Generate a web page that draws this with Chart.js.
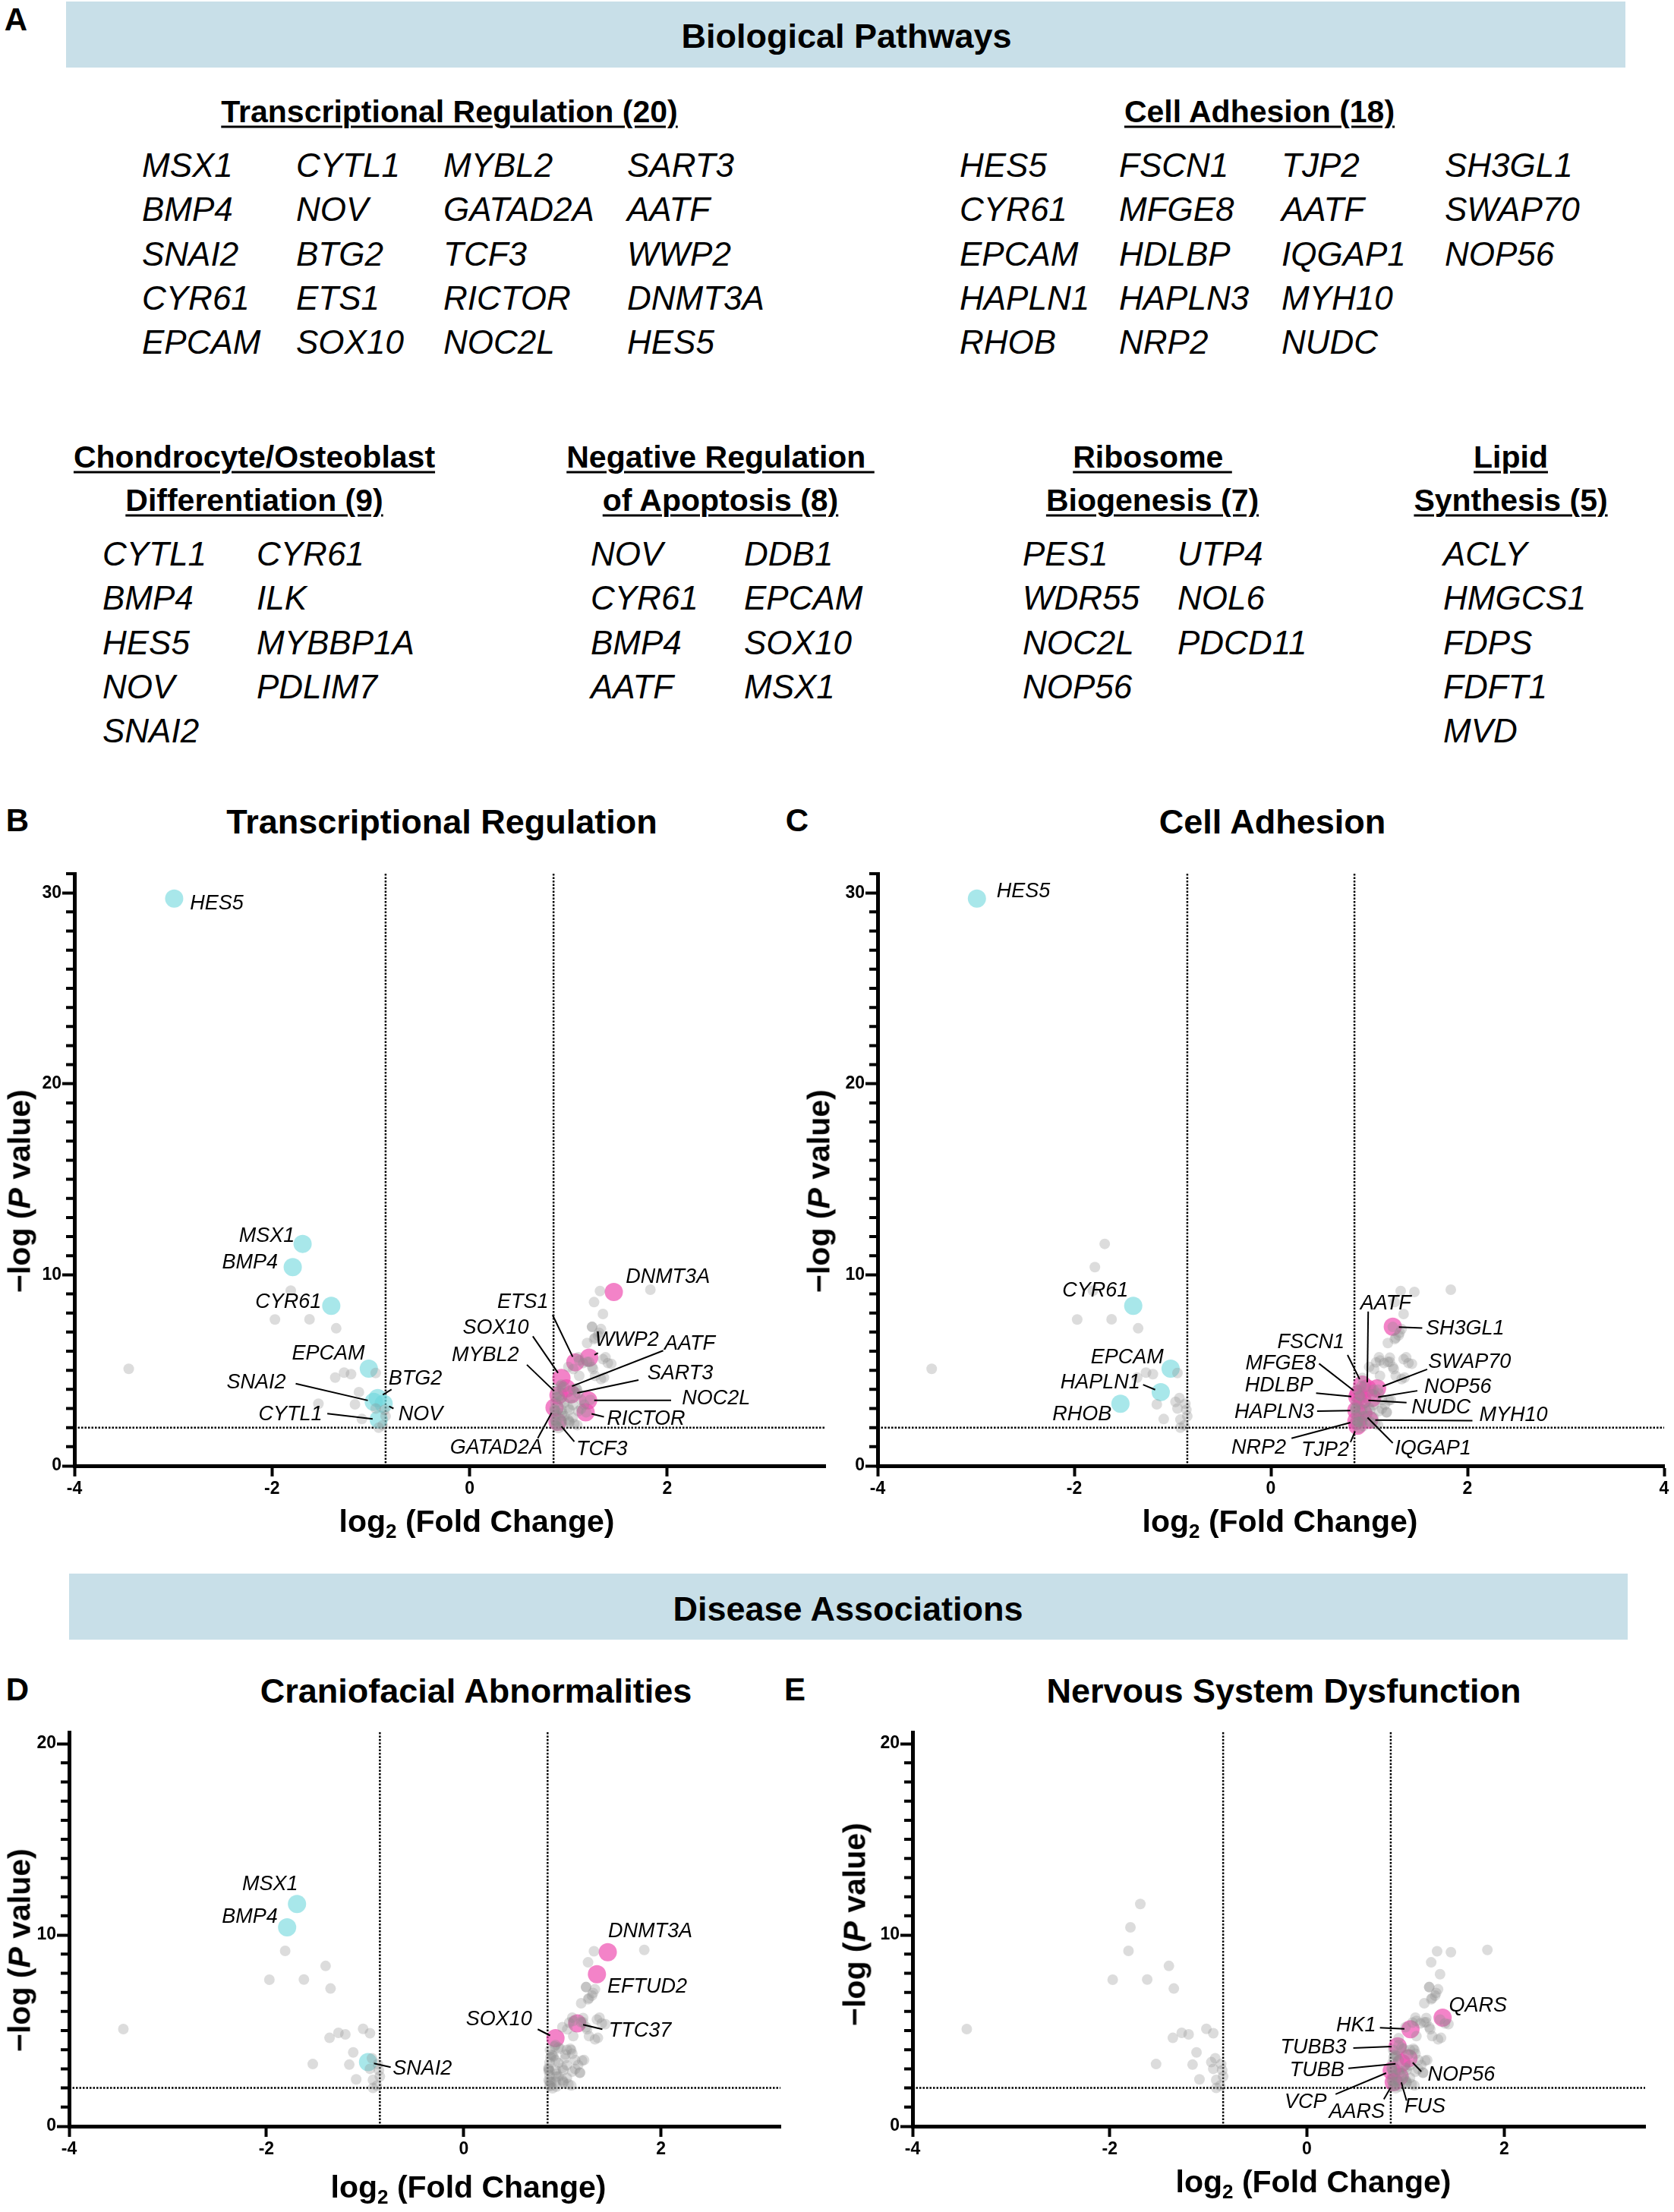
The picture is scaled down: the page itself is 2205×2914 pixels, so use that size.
<!DOCTYPE html>
<html>
<head>
<meta charset="utf-8">
<script src="https://cdn.jsdelivr.net/npm/chart.js@4/dist/chart.umd.min.js"></script>
<style>
html,body{margin:0;padding:0;background:#fff;overflow:hidden}
body{width:2205px;height:2914px;position:relative;font-family:"Liberation Sans",Arimo,Arial,Helvetica,sans-serif;color:#000}
.t{position:absolute;white-space:nowrap;line-height:1}
.c{transform:translate(-50%,-50%)}
.l{transform:translate(0,-50%)}
.band{position:absolute;background:#c8dfe8}
.ttl{font-weight:bold;font-size:45px}
.let{font-weight:bold;font-size:42px}
.hd{font-weight:bold;font-size:41px;text-decoration:underline;text-decoration-thickness:3px;text-underline-offset:5px}
.gene{font-style:italic;font-size:44px}
.axt{font-weight:bold;font-size:41px}
.axt sub{font-size:26px;vertical-align:-8px}
.yt{transform:translate(-50%,-50%) rotate(-90deg)}
canvas{position:absolute}
</style>
</head>
<body>
<script>
// ===== DADOS =====
// genes nomeados: log2 fold change e -log P
const geneNames = ["HES5","MSX1","BMP4","CYR61","EPCAM","SNAI2","CYTL1","BTG2","NOV","HAPLN1","RHOB",
  "DNMT3A","EFTUD2","TTC37","SOX10","ETS1","WWP2","MYBL2","AATF","SART3","NOC2L","RICTOR","GATAD2A","TCF3",
  "SH3GL1","FSCN1","MFGE8","HDLBP","HAPLN3","NRP2","TJP2","IQGAP1","MYH10","NUDC","SWAP70","NOP56",
  "QARS","HK1","TUBB3","TUBB","VCP","AARS","FUS"];
const geneLogFC = [-2.99,-1.69,-1.79,-1.40,-1.02,-0.97,-0.92,-0.93,-0.87,-1.12,-1.53,
  1.46,1.35,1.15,0.93,1.07,1.21,0.90,0.98,1.03,1.20,1.175,0.86,0.89,
  1.24,0.93,0.89,0.88,0.87,0.87,0.88,0.94,1.00,0.93,1.08,1.03,
  1.376,1.05,0.92,0.96,0.86,0.88,0.94];
const geneLogP = [29.7,11.62,10.4,8.38,5.09,3.35,2.42,3.55,3.25,3.86,3.25,
  9.1,7.95,5.38,4.6,5.42,5.66,3.7,4.05,3.75,3.43,2.8,3.05,2.3,
  7.28,4.25,3.75,3.6,2.9,2.35,2.1,2.75,2.4,3.45,4.05,3.55,
  5.68,5.07,4.18,3.3,2.9,2.3,2.6];

// demais proteínas significativas (sem nome)
const otherLogFC = [-3.45,-1.81,-1.97,-1.62,-1.35,-1.36,-1.27,-1.20,-0.95,-1.16,-0.86,-1.09,-0.88,-0.92,-0.85,-0.95,
  1.32,1.83,1.26,1.24,1.33,1.30,1.19,1.27,1.435,1.10,1.19,1.24,1.27,1.33,1.11,1.35,1.25,1.36,1.22,1.18,1.09,1.01,1.09,1.13,
  0.874,0.96,1.045,1.10,0.91,1.13,0.87,1.045,0.86,0.93,1.01,1.10,0.87,0.96,1.045,0.86,0.93,1.01,0.87,0.94,0.90,1.06,1.16,1.00,
  1.00,1.21,1.11,1.40,1.31,1.26];
const otherLogP = [5.08,9.17,7.66,7.67,7.2,4.62,4.88,4.80,4.86,3.22,2.93,2.45,2.12,2.0,2.6,3.0,
  9.15,9.22,8.57,7.27,7.16,6.83,6.43,6.7,5.34,5.68,5.44,5.18,4.71,4.54,4.71,5.58,5.07,4.62,3.46,2.80,3.98,2.33,2.13,2.99,
  3.99,4.12,3.99,3.79,3.65,3.46,3.33,3.19,2.99,2.93,2.93,2.86,2.66,2.60,2.53,2.40,2.33,2.27,2.13,2.07,1.98,2.2,3.2,3.05,
  5.18,5.44,5.51,5.38,6.97,6.64];

const FC_CUT = 0.85;   // log2(1.8)
const P_CUT = 2;       // P = 0.01

// genes destacados em cada painel
const transcriptionalGenes = ["HES5","MSX1","BMP4","CYR61","EPCAM","SNAI2","CYTL1","BTG2","NOV",
  "DNMT3A","ETS1","SOX10","MYBL2","WWP2","AATF","SART3","NOC2L","RICTOR","GATAD2A","TCF3"];
const adhesionGenes = ["HES5","CYR61","EPCAM","HAPLN1","RHOB","AATF","SH3GL1","FSCN1","SWAP70","MFGE8",
  "NOP56","HDLBP","NUDC","MYH10","HAPLN3","NRP2","TJP2","IQGAP1"];
const craniofacialGenes = ["MSX1","BMP4","SNAI2","DNMT3A","EFTUD2","SOX10","TTC37"];
const nervousGenes = ["QARS","HK1","TUBB3","TUBB","NOP56","VCP","AARS","FUS"];

// painel A
const pathwayTranscription = ["MSX1","BMP4","SNAI2","CYR61","EPCAM","CYTL1","NOV","BTG2","ETS1","SOX10",
  "MYBL2","GATAD2A","TCF3","RICTOR","NOC2L","SART3","AATF","WWP2","DNMT3A","HES5"];
const pathwayAdhesion = ["HES5","CYR61","EPCAM","HAPLN1","RHOB","FSCN1","MFGE8","HDLBP","HAPLN3","NRP2",
  "TJP2","AATF","IQGAP1","MYH10","NUDC","SH3GL1","SWAP70","NOP56"];
const pathwayChondro = ["CYTL1","BMP4","HES5","NOV","SNAI2","CYR61","ILK","MYBBP1A","PDLIM7"];
const pathwayApoptosis = ["NOV","CYR61","BMP4","AATF","DDB1","EPCAM","SOX10","MSX1"];
const pathwayRibosome = ["PES1","WDR55","NOC2L","NOP56","UTP4","NOL6","PDCD11"];
const pathwayLipid = ["ACLY","HMGCS1","FDPS","FDFT1","MVD"];

// ===== LAYOUT DOS RÓTULOS (posição do texto e início da linha, em unidades dos eixos) =====
const labelsB = [
  ["HES5",-2.83,29.45,"left"],["MSX1",-1.77,12.04,"right"],["BMP4",-1.94,10.63,"right"],
  ["CYR61",-1.50,8.57,"right"],["EPCAM",-1.06,5.86,"right"],
  ["BTG2",-0.82,4.54,"left",-0.79,4.0],["SNAI2",-1.86,4.35,"right",-1.76,4.30],
  ["CYTL1",-1.49,2.68,"right",-1.44,2.73],["NOV",-0.72,2.68,"left",-0.77,3.0],
  ["DNMT3A",1.58,9.88,"left"],["ETS1",0.80,8.57,"right",0.84,7.9],["SOX10",0.60,7.23,"right",0.64,6.78],
  ["MYBL2",0.50,5.79,"right",0.58,5.29],["WWP2",1.27,6.58,"left",1.30,5.91],["AATF",1.97,6.36,"left",1.96,6.03],
  ["SART3",1.80,4.84,"left",1.71,4.49],["NOC2L",2.15,3.50,"left",2.04,3.43],["RICTOR",1.39,2.43,"left",1.36,2.56],
  ["GATAD2A",0.74,0.94,"right",0.69,1.44],["TCF3",1.08,0.87,"left",1.06,1.27]
];
const labelsC = [
  ["HES5",-2.79,30.05,"left"],["CYR61",-1.45,9.15,"right"],["EPCAM",-1.09,5.67,"right"],
  ["HAPLN1",-1.33,4.35,"right",-1.30,4.25],["RHOB",-1.62,2.69,"right"],
  ["AATF",0.91,8.48,"left",0.99,8.08],["SH3GL1",1.575,7.16,"left",1.54,7.21],["FSCN1",0.75,6.47,"right",0.78,5.80],
  ["SWAP70",1.60,5.42,"left",1.59,5.05],["MFGE8",0.46,5.35,"right",0.49,5.35],["NOP56",1.56,4.10,"left",1.49,3.93],
  ["HDLBP",0.43,4.18,"right",0.46,3.81],["NUDC",1.43,3.06,"left",1.38,3.31],["MYH10",2.12,2.64,"left",2.05,2.36],
  ["HAPLN3",0.44,2.81,"right",0.47,2.86],["NRP2",0.155,0.95,"right",0.21,1.44],["TJP2",0.795,0.82,"right",0.81,1.24],
  ["IQGAP1",1.26,0.90,"left",1.24,1.19]
];
const labelsD = [
  ["MSX1",-1.68,12.65,"right"],["BMP4",-1.885,10.93,"right"],["SNAI2",-0.72,2.99,"left",-0.74,3.09],
  ["DNMT3A",1.463,10.18,"left"],["EFTUD2",1.456,7.27,"left"],["SOX10",0.692,5.57,"right",0.75,5.07],
  ["TTC37",1.47,4.98,"left",1.405,5.07]
];
const labelsE = [
  ["QARS",1.44,6.3,"left"],["HK1",0.70,5.24,"right",0.74,5.15],["TUBB3",0.40,4.09,"right",0.47,4.09],
  ["TUBB",0.38,2.9,"right",0.42,3.03],["NOP56",1.225,2.66,"left",1.16,2.86],["VCP",0.20,1.27,"right",0.29,1.67],
  ["AARS",0.79,0.74,"right",0.78,1.41],["FUS",0.99,1.01,"left",1.01,1.34]
];

// ===== TEXTO HTML =====
function put(html, x, y, cls){
  let d = document.createElement("div");
  d.className = "t " + cls;
  d.innerHTML = html;
  d.style.left = x + "px";
  d.style.top = y + "px";
  document.body.appendChild(d);
  return d;
}
function band(x, y, w, h){
  let d = document.createElement("div");
  d.className = "band";
  Object.assign(d.style, {left:x+"px", top:y+"px", width:w+"px", height:h+"px"});
  document.body.appendChild(d);
}

function renderPainelA(){
  band(87, 2, 2054, 87);
  put("Biological Pathways", 1115, 47, "ttl c");
  put("A", 21, 26, "let c");
  const blocos = [
    {genes:pathwayTranscription, titles:["Transcriptional Regulation (20)"], cx:592, ty:[147], cols:[187,390,584,826], per:5, y0:218},
    {genes:pathwayAdhesion, titles:["Cell Adhesion (18)"], cx:1659, ty:[147], cols:[1264,1474,1688,1903], per:5, y0:218},
    {genes:pathwayChondro, titles:["Chondrocyte/Osteoblast","Differentiation (9)"], cx:335, ty:[602,659], cols:[135,338], per:5, y0:730},
    {genes:pathwayApoptosis, titles:["Negative Regulation&nbsp;","of Apoptosis (8)"], cx:949, ty:[602,659], cols:[778,980], per:4, y0:730},
    {genes:pathwayRibosome, titles:["Ribosome&nbsp;","Biogenesis (7)"], cx:1518, ty:[602,659], cols:[1347,1551], per:4, y0:730},
    {genes:pathwayLipid, titles:["Lipid","Synthesis (5)"], cx:1990, ty:[602,659], cols:[1901], per:5, y0:730}
  ];
  blocos.forEach(b=>{
    b.titles.forEach((t,i)=>put(t, b.cx, b.ty[i], "hd c"));
    b.genes.forEach((g,i)=>{
      let col = Math.floor(i / b.per), row = i % b.per;
      put(g, b.cols[col], b.y0 + row*58.3, "gene l");
    });
  });
}

// ===== GRÁFICOS =====
function ponto(g){
  let i = geneNames.indexOf(g);
  return {x: geneLogFC[i], y: geneLogP[i], g};
}

const decor = {
  id: "decor",
  beforeDatasetsDraw(chart){
    const {ctx, chartArea:a, scales:{x, y}} = chart;
    ctx.save();
    ctx.strokeStyle = "#000"; ctx.lineWidth = 2.5; ctx.setLineDash([2.5,2]);
    ctx.beginPath();
    [-FC_CUT, FC_CUT].forEach(v=>{ let px = x.getPixelForValue(v); ctx.moveTo(px, a.top); ctx.lineTo(px, a.bottom); });
    let py = y.getPixelForValue(P_CUT);
    ctx.moveTo(a.left, py); ctx.lineTo(a.right, py);
    ctx.stroke();
    ctx.restore();
  },
  afterDraw(chart, args, opts){
    const {ctx, chartArea:a, scales:{x, y}} = chart;
    ctx.save();
    // ticks menores do eixo y
    ctx.strokeStyle = "#000"; ctx.lineWidth = 4;
    ctx.beginPath();
    for(let v = 1; v <= y.max; v++){
      if(v % 10 === 0) continue;
      let py = y.getPixelForValue(v);
      ctx.moveTo(a.left - 11, py); ctx.lineTo(a.left, py);
    }
    ctx.stroke();
    // rótulos dos genes
    ctx.font = "italic 27px 'Liberation Sans', Arimo, Arial, sans-serif";
    ctx.textBaseline = "middle";
    ctx.fillStyle = "#000";
    ctx.lineWidth = 2;
    (opts.labels || []).forEach(l=>{
      let p = ponto(l[0]);
      ctx.textAlign = l[3];
      ctx.fillText(l[0], x.getPixelForValue(l[1]), y.getPixelForValue(l[2]));
      if(l.length > 4){
        let sx = x.getPixelForValue(l[4]), sy = y.getPixelForValue(l[5]);
        let ex = x.getPixelForValue(p.x), ey = y.getPixelForValue(p.y);
        let d = Math.hypot(ex-sx, ey-sy), k = Math.max(0, (d - 8) / d);
        ctx.beginPath();
        ctx.moveTo(sx, sy);
        ctx.lineTo(sx + (ex-sx)*k, sy + (ey-sy)*k);
        ctx.stroke();
      }
    });
    ctx.restore();
  }
};

function renderPainel(cfg){
  const yW = 80, xH = 60, padT = 20, padR = cfg.padR;
  const cv = document.createElement("canvas");
  const w = Math.round(cfg.right - cfg.left + yW + padR);
  const h = Math.round(cfg.bottom - cfg.top + padT + xH);
  cv.width = w; cv.height = h;
  cv.style.left = (cfg.left - yW) + "px";
  cv.style.top = (cfg.top - padT) + "px";
  cv.style.width = w + "px"; cv.style.height = h + "px";
  document.body.appendChild(cv);

  // fundo cinza: todas as proteínas, menos as destacadas neste painel
  const fundo = geneNames.filter(g=>!cfg.genes.includes(g)).map(ponto)
    .concat(otherLogFC.map((v,i)=>({x:v, y:otherLogP[i]})))
    .filter(p=>p.y <= cfg.yMax);
  const hits = cfg.genes.map(ponto);
  const tickFont = {family:"'Liberation Sans Narrow','Liberation Sans',Arimo,Arial,sans-serif", size:23, weight:"bold"};

  new Chart(cv, {
    type: "scatter",
    data: { datasets: [
      { data: fundo, pointRadius: 7, pointHoverRadius: 7, backgroundColor: "rgba(140,140,140,0.3)", borderWidth: 0 },
      { data: hits.filter(p=>p.x < 0), pointRadius: 12, pointHoverRadius: 12, backgroundColor: "rgba(110,215,220,0.6)", borderWidth: 0 },
      { data: hits.filter(p=>p.x > 0), pointRadius: 12, pointHoverRadius: 12, backgroundColor: "rgba(238,79,176,0.7)", borderWidth: 0 }
    ]},
    options: {
      responsive: false, animation: false, devicePixelRatio: 1,
      layout: { padding: {top: padT, right: padR, left: 0, bottom: 0} },
      plugins: { legend: {display:false}, tooltip: {enabled:false}, decor: {labels: cfg.labels} },
      scales: {
        x: {
          type: "linear", min: -4, max: cfg.xMax,
          afterFit: s=>{ s.height = xH; },
          border: {display:true, color:"#000", width:5},
          grid: {display:true, drawOnChartArea:false, drawTicks:true, tickLength:14, tickWidth:4, tickColor:"#000"},
          ticks: {stepSize:2, includeBounds:false, color:"#000", font:tickFont, padding:3, maxRotation:0}
        },
        y: {
          type: "linear", min: 0, max: cfg.yMax,
          afterFit: s=>{ s.width = yW; },
          border: {display:true, color:"#000", width:5},
          grid: {display:true, drawOnChartArea:false, drawTicks:true, tickLength:16, tickWidth:4,
                 tickColor: c=> (c.tick && Math.abs(c.tick.value % 10) < 1e-6) ? "#000" : "rgba(0,0,0,0)"},
          ticks: {stepSize:1, autoSkip:false, includeBounds:false, color:"#000", font:tickFont, padding:1,
                  callback: v=> Math.abs(v % 10) < 1e-6 ? String(v) : ""}
        }
      }
    },
    plugins: [decor]
  });

  put(cfg.letter, cfg.letterX, cfg.titleY - 1, "let c");
  put(cfg.title, cfg.titleX, cfg.titleY, "ttl c");
  put("log<sub>2</sub> (Fold Change)", cfg.xtX, cfg.xtY, "axt c");
  put("&minus;log (<i>P</i> value)", cfg.ytX, cfg.ytY, "axt yt");
}

function init(){
  renderPainelA();
  band(91, 2073, 2053, 87);
  put("Disease Associations", 1117, 2119, "ttl c");
  renderPainel({letter:"B", letterX:23, title:"Transcriptional Regulation", titleX:582, titleY:1082,
    left:98.2, right:1087, top:1150.9, bottom:1930.6, xMax:3.6, yMax:31, padR:24,
    genes:transcriptionalGenes, labels:labelsB, xtX:628, xtY:2007, ytX:26, ytY:1569});
  renderPainel({letter:"C", letterX:1050, title:"Cell Adhesion", titleX:1676, titleY:1082,
    left:1155.9, right:2193.5, top:1150.9, bottom:1930.6, xMax:4, yMax:31, padR:10,
    genes:adhesionGenes, labels:labelsC, xtX:1686, xtY:2007, ytX:1079, ytY:1569});
  renderPainel({letter:"D", letterX:23, title:"Craniofacial Abnormalities", titleX:627, titleY:2227,
    left:91.2, right:1028.5, top:2281.7, bottom:2800.4, xMax:3.21, yMax:20.6, padR:24,
    genes:craniofacialGenes, labels:labelsD, xtX:617, xtY:2884, ytX:26, ytY:2569});
  renderPainel({letter:"E", letterX:1047, title:"Nervous System Dysfunction", titleX:1691, titleY:2227,
    left:1202.4, right:2167.5, top:2281.7, bottom:2800.4, xMax:3.43, yMax:20.6, padR:24,
    genes:nervousGenes, labels:labelsE, xtX:1730, xtY:2877, ytX:1126, ytY:2535});
}
init();
</script>
</body>
</html>
